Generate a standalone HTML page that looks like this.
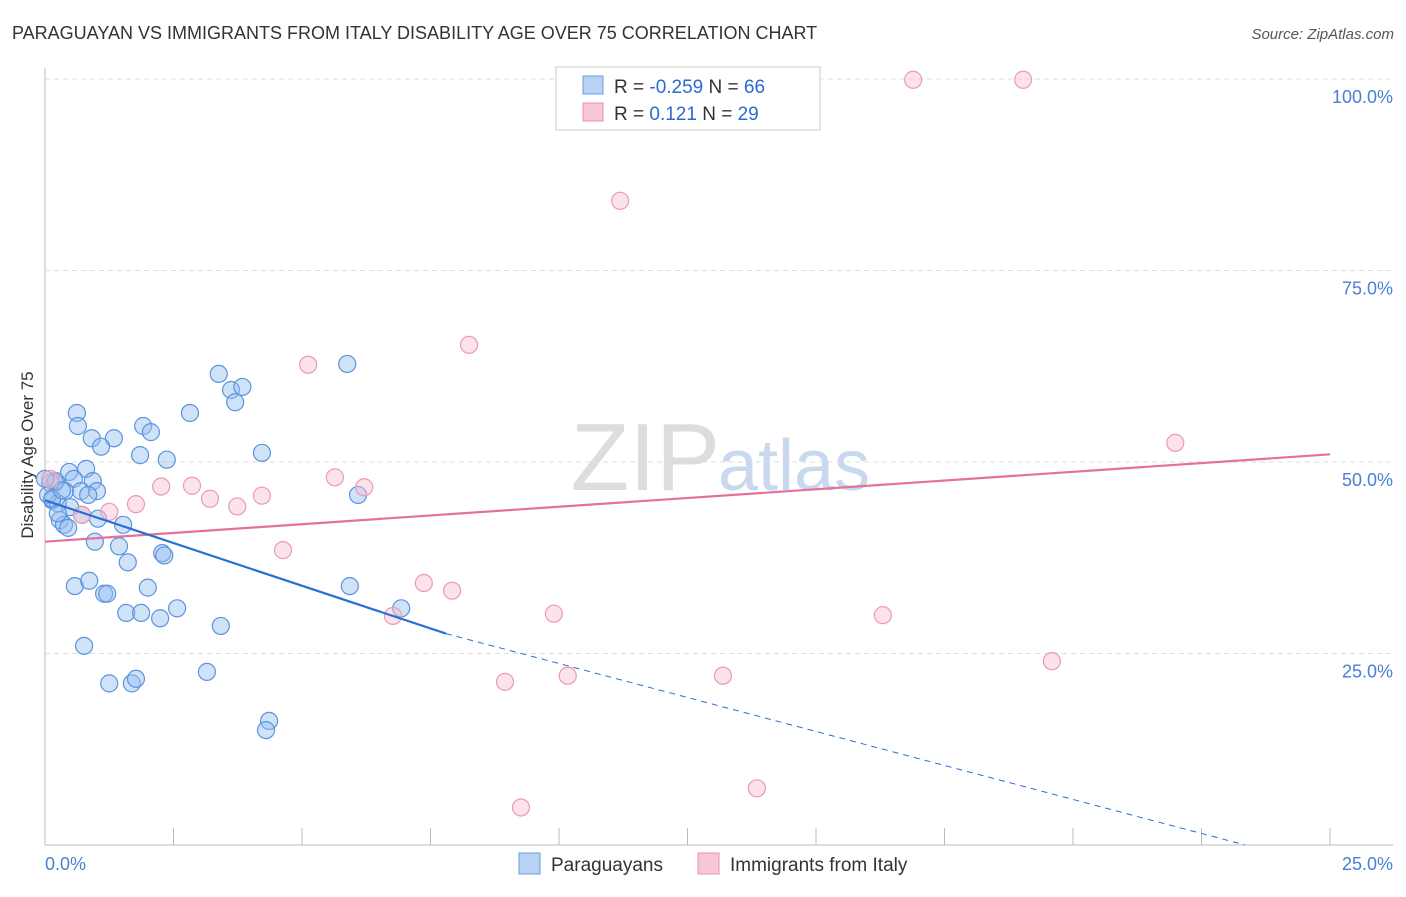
<!DOCTYPE html>
<html><head><meta charset="utf-8"><style>
body{margin:0;background:#fff;font-family:"Liberation Sans",sans-serif;}
svg text{font-family:"Liberation Sans",sans-serif;}
</style></head><body>
<svg id="c" width="1406" height="892" xmlns="http://www.w3.org/2000/svg">
<text x="12" y="39" font-size="18" fill="#333">PARAGUAYAN VS IMMIGRANTS FROM ITALY DISABILITY AGE OVER 75 CORRELATION CHART</text>
<text x="1394" y="39" font-size="15" fill="#555" font-style="italic" text-anchor="end">Source: ZipAtlas.com</text>
<text x="720" y="490" font-size="96" fill="#ddd" text-anchor="end" font-family="Liberation Serif">ZIP</text>
<text x="718" y="490" font-size="72" fill="#c8d8ee">atlas</text>
<text transform="translate(33,455) rotate(-90)" font-size="17" fill="#333" text-anchor="middle">Disability Age Over 75</text>
<g id="grid"></g><g id="pts"></g><g id="lines"></g>
<g>
<rect x="556" y="67" width="264" height="63" fill="#fff" stroke="#ccc"/>
<rect x="583" y="76" width="20" height="18" fill="#b8d2f4" stroke="#6a9ee0"/>
<rect x="583" y="103" width="20" height="18" fill="#f8c8d6" stroke="#e890aa"/>
<text x="614" y="93" font-size="19" fill="#333">R = <tspan fill="#2a6ad0">-0.259</tspan>   N = <tspan fill="#2a6ad0">66</tspan></text>
<text x="614" y="120" font-size="19" fill="#333">R =    <tspan fill="#2a6ad0">0.121</tspan>   N = <tspan fill="#2a6ad0">29</tspan></text>
</g>
<g>
<rect x="519" y="853" width="21" height="21" fill="#b8d2f4" stroke="#6a9ee0"/>
<text x="551" y="871" font-size="19" fill="#333">Paraguayans</text>
<rect x="698" y="853" width="21" height="21" fill="#f8c8d6" stroke="#e890aa"/>
<text x="730" y="871" font-size="19" fill="#333">Immigrants from Italy</text>
</g>
</svg>
<script>
const xTicks=[0,2.5,5,7.5,10,12.5,15,17.5,20,22.5,25];
const yTicks=[25,50,75,100];
const yTickLabels=["25.0%","50.0%","75.0%","100.0%"];
const blueX=[3.38,5.88,3.62,3.84,3.70,0.62,0.64,2.82,0.91,1.34,1.09,1.91,2.06,1.85,2.37,4.22,0.47,0.80,0.56,0.93,0.19,0.39,0.70,1.01,0.84,0.14,0.25,0.49,0.72,0.29,0.37,0.45,1.03,1.52,0.97,1.44,1.61,2.28,2.32,6.09,0.58,0.86,1.15,1.21,2.00,1.58,1.87,2.57,2.24,3.42,0.76,1.25,1.69,1.77,3.15,4.36,4.30,5.93,6.93,0.10,0.06,0.21,0.0,0.14,0.33,0.25];
const blueY=[61.5,62.8,59.4,59.8,57.8,56.4,54.7,56.4,53.1,53.1,52.0,54.7,53.9,50.9,50.3,51.2,48.7,49.1,47.8,47.5,47.3,46.2,46.2,46.2,45.7,45.0,44.6,44.1,43.1,42.4,41.8,41.4,42.6,41.8,39.6,39.0,36.9,38.1,37.8,45.7,33.8,34.5,32.8,32.8,33.6,30.3,30.3,30.9,29.6,28.6,26.0,21.1,21.1,21.7,22.6,16.2,15.0,33.8,30.9,47.3,45.7,47.5,47.8,45.2,46.3,43.3];
const pinkX=[16.89,19.03,11.19,8.25,5.12,21.99,5.64,6.21,2.26,2.86,3.21,3.74,4.22,1.77,1.25,0.72,4.63,7.37,7.92,6.77,9.90,16.30,19.59,8.95,10.17,13.19,13.85,9.26,0.10];
const pinkY=[99.9,99.9,84.1,65.3,62.7,52.5,48.0,46.7,46.8,46.9,45.2,44.2,45.6,44.5,43.5,43.1,38.5,34.2,33.2,29.9,30.2,30.0,24.0,21.3,22.1,22.1,7.4,4.9,47.8];
const blueLine=[[0,45.0],[7.8,27.6],[23.35,0]];
const pinkLine=[[0,39.6],[25,51.0]];
const X0=45,X1=1330,Y0=845,Y1=79;
const sx=v=>X0+(v/25)*(X1-X0), sy=v=>Y0-(v/100)*(Y0-Y1);
const NS="http://www.w3.org/2000/svg";
function mk(p,t,a){const e=document.createElementNS(NS,t);for(const k in a)e.setAttribute(k,a[k]);document.getElementById(p).appendChild(e);return e;}
let ax=mk('grid','line',{x1:45,y1:68,x2:45,y2:845,stroke:'#bbb'});


let bx=mk('grid','line',{x1:45,y1:845,x2:1393,y2:845,stroke:'#bbb'});


xTicks.forEach(t=>{const l=mk('grid','line',{x1:sx(t),y1:828,x2:sx(t),y2:845,stroke:'#bbb'});

});
yTicks.forEach((t,i)=>{const g=mk('grid','line',{x1:45,y1:sy(t),x2:1393,y2:sy(t),stroke:'#ddd','stroke-dasharray':'5,4'});


const tx=mk('grid','text',{x:1393,y:sy(t)+24,'font-size':18,fill:'#4a7fd6','text-anchor':'end'});tx.textContent=yTickLabels[i];

});
const xl0=mk('grid','text',{x:45,y:870,'font-size':18,fill:'#4a7fd6'});xl0.textContent='0.0%';


const xl1=mk('grid','text',{x:1393,y:870,'font-size':18,fill:'#4a7fd6','text-anchor':'end'});xl1.textContent='25.0%';


blueX.forEach((v,i)=>{const c=mk('pts','circle',{cx:sx(v),cy:sy(blueY[i]),r:8.5,fill:'rgba(150,190,240,0.45)',stroke:'#5b93de','stroke-width':1.2});

});
pinkX.forEach((v,i)=>{const c=mk('pts','circle',{cx:sx(v),cy:sy(pinkY[i]),r:8.5,fill:'rgba(248,190,208,0.45)',stroke:'#eb9ab3','stroke-width':1.2});

});
const pl=mk('lines','line',{x1:sx(pinkLine[0][0]),y1:sy(pinkLine[0][1]),x2:sx(pinkLine[1][0]),y2:sy(pinkLine[1][1]),stroke:'#e5709a','stroke-width':2.2});


const bl=mk('lines','line',{x1:sx(blueLine[0][0]),y1:sy(blueLine[0][1]),x2:sx(blueLine[1][0]),y2:sy(blueLine[1][1]),stroke:'#2a6fd6','stroke-width':2.2});


const bd=mk('lines','line',{x1:sx(blueLine[1][0]),y1:sy(blueLine[1][1]),x2:sx(blueLine[2][0]),y2:sy(blueLine[2][1]),stroke:'#2a6fd6','stroke-width':1,'stroke-dasharray':'6,5'});


</script>
</body></html>
